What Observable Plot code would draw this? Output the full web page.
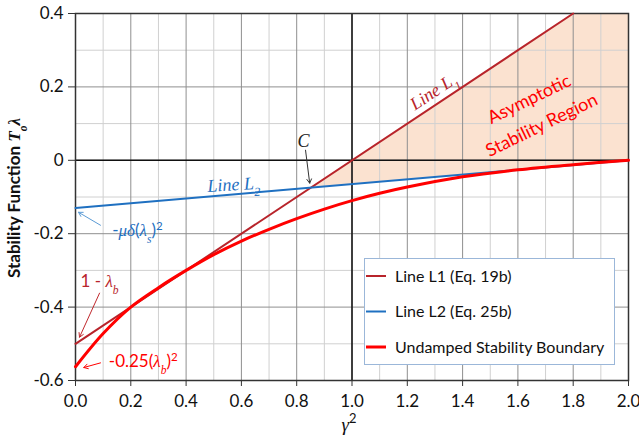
<!DOCTYPE html>
<html>
<head>
<meta charset="utf-8">
<script src="https://cdn.jsdelivr.net/npm/d3@7"></script>
<script src="https://cdn.jsdelivr.net/npm/@observablehq/plot@0.6"></script>
<style>
  html, body { margin: 0; padding: 0; background: #fff; }
  #chart { position: relative; width: 639px; height: 435px; }
</style>
</head>
<body>
<div id="chart"></div>
<script>
// ---- data ----
const xMajorTicks = [0, 0.2, 0.4, 0.6, 0.8, 1.0, 1.2, 1.4, 1.6, 1.8, 2.0];
const xMinorTicks = [0.1, 0.3, 0.5, 0.7, 0.9, 1.1, 1.3, 1.5, 1.7, 1.9];
const yMajorTicks = [-0.6, -0.4, -0.2, 0, 0.2, 0.4];
const yMinorTicks = [-0.5, -0.3, -0.1, 0.1, 0.3];

const lineL1X = [0, 1.8];
const lineL1Y = [-0.5, 0.4];
const lineL2X = [0, 2.0];
const lineL2Y = [-0.13, 0];
const boundaryX = [0, 0.1, 0.2, 0.3, 0.4, 0.5, 0.6, 0.7, 0.8, 0.9, 1.0, 1.1, 1.2, 1.4, 1.6, 1.8, 2.0];
const boundaryY = [-0.5625, -0.472, -0.400, -0.347, -0.300, -0.257, -0.220, -0.188, -0.159, -0.133, -0.110, -0.090, -0.073, -0.045, -0.026, -0.012, 0];

const legendLabels = ["Line L1 (Eq. 19b)", "Line L2 (Eq. 25b)", "Undamped Stability Boundary"];

// annotation anchors, in data units
const annotations = [
  {text: "|C|", x: 0.825, y: 0.052, color: "#222", size: 18, rotate: 0},
  {text: "|Line L_1|", x: 1.296, y: 0.188, color: "#b8242b", size: 18, rotate: -33.6},
  {text: "|Line L_2|", x: 0.572, y: -0.066, color: "#1f70c1", size: 18, rotate: -3.5},
  {text: "-|μδ|(|λ_s|)^2", x: 0.224, y: -0.191, color: "#1f70c1", size: 17, rotate: 0},
  {text: "1 - |λ_b|", x: 0.087, y: -0.330, color: "#b8242b", size: 17, rotate: 0},
  {text: "-0.25(|λ_b|)^2", x: 0.245, y: -0.548, color: "#ff0000", size: 17, rotate: 0}
];
const regionLabel = {text: "Asymptotic\nStability Region", x: 1.658, y: 0.139, rotate: -26};

const arrows = [
  {x1: 0.832, y1: 0.0275, x2: 0.847, y2: -0.0624, color: "#333"},
  {x1: 0.0905, y1: -0.177, x2: 0.011, y2: -0.1417, color: "#5b9bd5"},
  {x1: 0.0869, y1: -0.362, x2: 0.0145, y2: -0.482, color: "#c0282d"},
  {x1: 0.0905, y1: -0.552, x2: 0.030, y2: -0.5646, color: "#ff0000"}
];

// ---- derived tables ----
const toPts = (xs, ys) => xs.map((x, i) => ({x, y: ys[i]}));
const L1 = toPts(lineL1X, lineL1Y);
const L2 = toPts(lineL2X, lineL2Y);
const boundary = toPts(boundaryX, boundaryY);
const lin = (xs, ys, x) => ys[0] + (ys[1] - ys[0]) * (x - xs[0]) / (xs[1] - xs[0]);
const s1 = (lineL1Y[1] - lineL1Y[0]) / (lineL1X[1] - lineL1X[0]);
const s2 = (lineL2Y[1] - lineL2Y[0]) / (lineL2X[1] - lineL2X[0]);
const xC = (lineL2Y[0] - lineL1Y[0]) / (s1 - s2);
const yTop = yMajorTicks[yMajorTicks.length - 1];
const fillPts = [xC, lineL1X[1], lineL2X[1]].map(x => ({
  x, lo: lin(lineL2X, lineL2Y, x), hi: Math.min(lin(lineL1X, lineL1Y, x), yTop)
}));

const fmt = d => d === 0 ? "0" : d.toFixed(1);
const SANS = "Lato, 'Open Sans', sans-serif";
const SERIF = "'Liberation Serif', 'DejaVu Serif', serif";

const marks = [
  Plot.areaY(fillPts, {x: "x", y1: "lo", y2: "hi", fill: "#fbe2d0"}),
  Plot.ruleX(xMinorTicks, {stroke: "#d0d0d0", strokeWidth: 1}),
  Plot.ruleY(yMinorTicks, {stroke: "#d0d0d0", strokeWidth: 1}),
  Plot.ruleX(xMajorTicks, {stroke: "#8f8f8f", strokeWidth: 1}),
  Plot.ruleY(yMajorTicks, {stroke: "#8f8f8f", strokeWidth: 1}),
  Plot.ruleY([0], {stroke: "#111", strokeWidth: 1.5}),
  Plot.ruleX([1.0], {stroke: "#111", strokeWidth: 1.5}),
  Plot.frame({stroke: "#333", strokeWidth: 1.5}),
  Plot.axisX({ticks: xMajorTicks, tickFormat: d => d.toFixed(1), tickSize: 6, tickPadding: 8, fontSize: 17, label: null, stroke: "#333"}),
  Plot.axisY({ticks: yMajorTicks, tickFormat: fmt, tickSize: 7, tickPadding: 5, fontSize: 17, label: null, stroke: "#333"}),
  Plot.line(L1, {x: "x", y: "y", stroke: "#b8242b", strokeWidth: 2}),
  Plot.line(L2, {x: "x", y: "y", stroke: "#1f70c1", strokeWidth: 2}),
  Plot.line(boundary, {x: "x", y: "y", stroke: "#ff0000", strokeWidth: 3, curve: "catmull-rom"}),
  ...arrows.map(a => Plot.arrow([a], {x1: "x1", y1: "y1", x2: "x2", y2: "y2", stroke: a.color, strokeWidth: 1, headLength: 7, bend: 0})),
  ...annotations.map(a => Plot.text([a], {x: "x", y: "y", text: "text", fill: a.color, fontSize: a.size, rotate: a.rotate, fontFamily: SANS, textAnchor: "middle"})),
  Plot.text([regionLabel], {x: "x", y: "y", text: "text", rotate: "rotate", fill: "#ff0000", fontSize: 18, lineHeight: 1.6, fontFamily: SANS, textAnchor: "middle"})
];

const plot = Plot.plot({
  width: 639,
  height: 435,
  marginLeft: 75,
  marginRight: 11,
  marginTop: 13,
  marginBottom: 55,
  style: {fontFamily: SANS, color: "#111", background: "#fff"},
  x: {domain: [0, 2], axis: null},
  y: {domain: [-0.6, 0.4], axis: null},
  marks
});

// rich text: |...| toggles italic serif, _x subscript, ^x superscript
function rich(el) {
  const t = el.textContent;
  if (!/[|_^]/.test(t)) return;
  const segs = [];
  let italic = false, i = 0, buf = "";
  const flush = () => { if (buf) segs.push({text: buf, italic, shift: null}); buf = ""; };
  while (i < t.length) {
    const c = t[i];
    if (c === "|") { flush(); italic = !italic; i++; }
    else if (c === "_" || c === "^") {
      flush();
      let tok;
      if (t[i + 1] === "{") { const j = t.indexOf("}", i); tok = t.slice(i + 2, j); i = j + 1; }
      else { tok = t[i + 1]; i += 2; }
      segs.push({text: tok, italic, shift: c === "_" ? "sub" : "super"});
    } else { buf += c; i++; }
  }
  flush();
  el.textContent = "";
  for (const s of segs) {
    const ts = document.createElementNS("http://www.w3.org/2000/svg", "tspan");
    ts.textContent = s.text;
    if (s.italic) { ts.setAttribute("font-family", SERIF); ts.setAttribute("font-style", "italic"); }
    if (s.shift) { ts.setAttribute("baseline-shift", s.shift); ts.setAttribute("font-size", "68%"); }
    el.appendChild(ts);
  }
}
d3.select(plot).selectAll("text").each(function () { rich(this); });

const svg = d3.select(plot);
// axis titles
const yl = svg.append("text")
  .attr("transform", "translate(20,198) rotate(-90)")
  .attr("text-anchor", "middle")
  .attr("font-family", SANS).attr("font-weight", "bold").attr("font-size", 17).attr("fill", "#111")
  .text("Stability Function |T_oλ|");
rich(yl.node());
const xl = svg.append("text")
  .attr("x", 349).attr("y", 431)
  .attr("text-anchor", "middle")
  .attr("font-family", SANS).attr("font-size", 19).attr("fill", "#111")
  .text("|γ|^2");
rich(xl.node());

// legend
const lg = svg.append("g").attr("font-family", SANS).attr("font-size", 16).attr("fill", "#111");
lg.append("rect").attr("x", 364.5).attr("y", 258.5).attr("width", 250).attr("height", 106)
  .attr("fill", "#fff").attr("stroke", "#9bb7d9").attr("stroke-width", 1);
const legendColors = ["#b8242b", "#1f70c1", "#ff0000"];
const legendWidths = [2, 2, 3];
legendLabels.forEach((lab, i) => {
  const yy = 276 + i * 35.5;
  lg.append("line").attr("x1", 366).attr("x2", 386).attr("y1", yy).attr("y2", yy)
    .attr("stroke", legendColors[i]).attr("stroke-width", legendWidths[i]);
  lg.append("text").attr("x", 395).attr("y", yy).attr("dy", "0.35em")
    .attr("text-anchor", "start").text(lab);
});

document.getElementById("chart").appendChild(plot);
</script>
</body>
</html>
